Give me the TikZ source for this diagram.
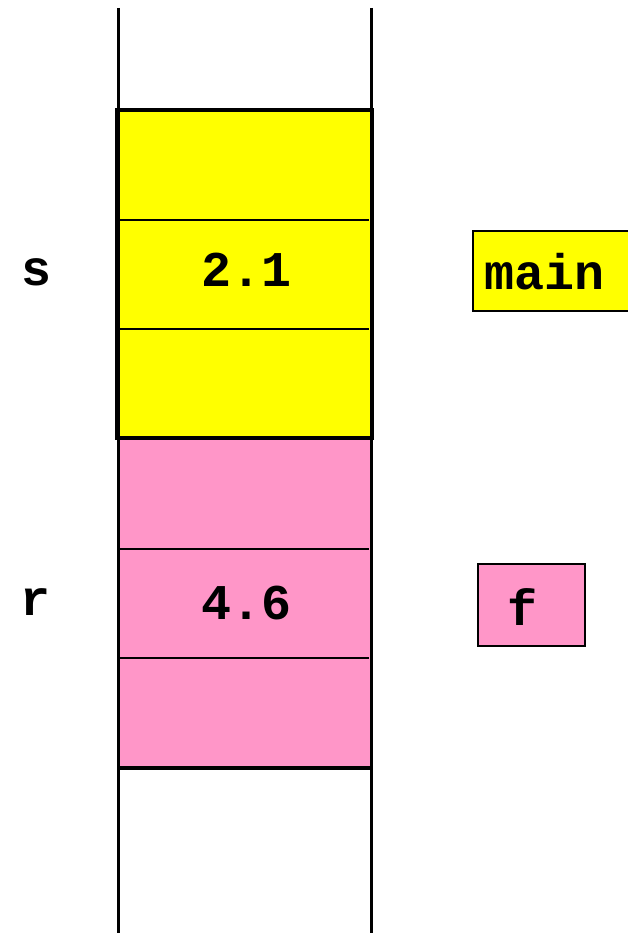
\documentclass[tikz,border=0pt]{standalone}
\usepackage{fontspec}
\setmonofont{Liberation Mono}
\definecolor{yel}{RGB}{255,255,0}
\definecolor{pnk}{RGB}{255,150,200}
\tikzset{
  lbl/.style={font=\ttfamily\bfseries\fontsize{50}{60}\selectfont, inner sep=0pt},
  tag/.style={draw=black, line width=2pt, inner sep=0pt},
}
\begin{document}
\begin{tikzpicture}[x=1pt,y=-1pt]
\useasboundingbox (0,0) rectangle (628,933);
% frames
\fill[yel] (118,110) rectangle (371,438);
\fill[pnk] (118,438) rectangle (371,768);
\draw[line width=2.5pt] (120,220) -- (369,220);
\draw[line width=2.5pt] (120,329) -- (369,329);
\draw[line width=2.5pt] (120,549) -- (369,549);
\draw[line width=2.5pt] (120,658) -- (369,658);
\draw[line width=4pt] (117,110) rectangle (372,438);
\draw[line width=3.5pt] (117,768) -- (372,768);
% column lines
\draw[line width=3pt] (118,8) coordinate (c1t) -- (118,933) coordinate (c1b);
\draw[line width=3pt] (371,8) coordinate (c2t) -- (371,933) coordinate (c2b);
% values
\node[lbl] (v1) at (247,270) {2.1};
\node[lbl] (v2) at (247,603) {4.6};
\node[lbl] (s) at (37,272) {s};
\node[lbl] (r) at (36,602) {r};
% tags
\fill[yel] (473,231) rectangle (630,311);
\draw[line width=2pt] (630,231) -- (473,231) -- (473,311) -- (630,311);
\node[lbl, anchor=west] (m) at (484,272) {main};
\fill[pnk] (478,564) rectangle (585,646);
\draw[line width=2pt] (478,564) rectangle (585,646);
\node[lbl] (f) at (522,607) {f};
\end{tikzpicture}
\end{document}
